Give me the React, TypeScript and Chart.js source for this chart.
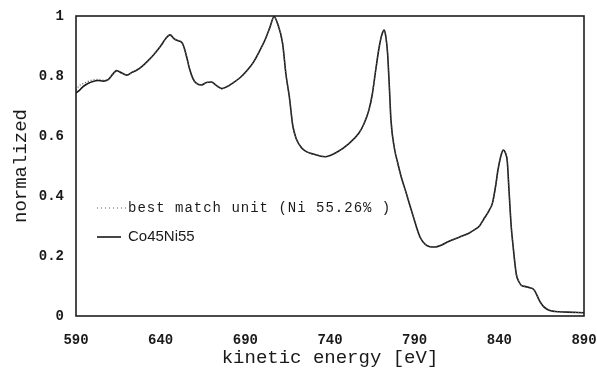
import React, { useEffect, useRef } from "react";
import { Chart, registerables } from "chart.js";

Chart.register(...registerables);

const energy = [
  590, 592, 594, 597, 600, 603, 606, 609, 612, 614, 617, 620, 623, 626, 629, 632, 636, 640, 643, 645.5,
  648, 650, 652.5, 654, 655.5, 657, 659, 661, 664, 667, 670, 673, 676, 679, 683, 687, 691, 695, 699, 702,
  704.5, 707, 709, 712, 714, 716, 718, 720, 723, 726, 730, 737, 744, 751, 757, 760, 763, 765, 767, 769,
  770.5, 772, 773, 774, 775, 776, 778, 780, 782, 785, 789, 793, 796, 799, 802, 806, 810, 816, 822, 826,
  828, 831, 834, 836, 838, 839, 840.8, 842.3, 843.5, 844.7, 845.7, 847, 848, 850, 851.5, 853, 855.5, 858,
  860, 861.5, 863.5, 866, 869, 873, 880, 890,
];

const coNi = [
  0.743, 0.752, 0.764, 0.775, 0.782, 0.785, 0.783, 0.788, 0.808, 0.818, 0.81, 0.803, 0.812, 0.82, 0.832, 0.848, 0.872, 0.9, 0.925, 0.937,
  0.924, 0.918, 0.912, 0.892, 0.86, 0.825, 0.792, 0.776, 0.77, 0.778, 0.78, 0.768, 0.758, 0.764, 0.778, 0.795, 0.818, 0.848, 0.89, 0.925,
  0.962, 0.998, 0.975, 0.909, 0.805, 0.73, 0.635, 0.592, 0.562, 0.548, 0.54, 0.531, 0.546, 0.574, 0.609, 0.64, 0.687, 0.74, 0.82, 0.895,
  0.935, 0.953, 0.93, 0.876, 0.77, 0.653, 0.56, 0.51, 0.465, 0.41, 0.335, 0.265, 0.24, 0.231, 0.23, 0.237, 0.248, 0.262, 0.276, 0.29,
  0.298, 0.325, 0.352, 0.378, 0.44, 0.48, 0.531, 0.553, 0.545, 0.515, 0.42, 0.3, 0.24, 0.14, 0.115, 0.102, 0.098, 0.094,
  0.09, 0.078, 0.053, 0.032, 0.02, 0.015, 0.013, 0.011,
];

const bestMatch = [
  0.753, 0.768, 0.774, 0.782, 0.787, 0.789, 0.786, 0.789, 0.808, 0.818, 0.81, 0.803, 0.812, 0.82, 0.832, 0.848, 0.872, 0.9, 0.925, 0.937,
  0.924, 0.918, 0.912, 0.892, 0.86, 0.825, 0.792, 0.776, 0.77, 0.778, 0.78, 0.768, 0.758, 0.764, 0.778, 0.795, 0.818, 0.848, 0.89, 0.925,
  0.962, 0.998, 0.975, 0.909, 0.805, 0.73, 0.635, 0.592, 0.562, 0.548, 0.54, 0.531, 0.546, 0.574, 0.609, 0.64, 0.687, 0.74, 0.82, 0.895,
  0.935, 0.953, 0.93, 0.876, 0.77, 0.653, 0.56, 0.51, 0.465, 0.41, 0.335, 0.265, 0.24, 0.231, 0.23, 0.237, 0.248, 0.262, 0.276, 0.29,
  0.298, 0.325, 0.352, 0.378, 0.44, 0.48, 0.531, 0.553, 0.545, 0.515, 0.42, 0.3, 0.24, 0.14, 0.115, 0.102, 0.098, 0.094,
  0.09, 0.078, 0.053, 0.032, 0.02, 0.015, 0.013, 0.011,
];

const xTicks = [590, 640, 690, 740, 790, 840, 890];
const yTicks = [0, 0.2, 0.4, 0.6, 0.8, 1];
const legendLabels = ["best match unit (Ni 55.26% )", "Co45Ni55"];
const xTitle = "kinetic energy [eV]";
const yTitle = "normalized";

export default function App() {
  const ref = useRef<HTMLCanvasElement>(null);

  useEffect(() => {
    const boxPlugin = {
      id: "box",
      afterDraw(chart: any) {
        const { ctx, chartArea } = chart;
        const { left, top, right, bottom } = chartArea;
        ctx.save();
        ctx.strokeStyle = "#1e1e1e";
        ctx.lineWidth = 1.6;
        ctx.strokeRect(left, top, right - left, bottom - top);
        ctx.restore();
      },
    };

    const legendPlugin = {
      id: "customLegend",
      afterDraw(chart: any) {
        const { ctx, chartArea } = chart;
        const x0 = chartArea.left + 21;
        const y1 = chartArea.top + 192;
        const y2 = chartArea.top + 221;
        ctx.save();
        ctx.strokeStyle = "#555";
        ctx.lineWidth = 1.2;
        ctx.setLineDash([1, 3]);
        ctx.beginPath();
        ctx.moveTo(x0, y1);
        ctx.lineTo(x0 + 29, y1);
        ctx.stroke();
        ctx.setLineDash([]);
        ctx.strokeStyle = "#1a1a1a";
        ctx.lineWidth = 1.6;
        ctx.beginPath();
        ctx.moveTo(x0, y2);
        ctx.lineTo(x0 + 24, y2);
        ctx.stroke();
        ctx.fillStyle = "#1a1a1a";
        ctx.textBaseline = "middle";
        ctx.textAlign = "left";
        ctx.font = "14px 'Liberation Mono', 'DejaVu Sans Mono', monospace";
        try { (ctx as any).letterSpacing = "1px"; } catch (e) {}
        ctx.fillText(legendLabels[0], x0 + 31, y1);
        try { (ctx as any).letterSpacing = "0px"; } catch (e) {}
        ctx.font = "15px 'Liberation Sans', Arial, sans-serif";
        ctx.fillText(legendLabels[1], x0 + 31, y2);
        ctx.restore();
      },
    };

    const tickFont = { family: "'Liberation Mono', 'DejaVu Sans Mono', monospace", size: 14, weight: "bold" as const };
    const titleFont = { family: "'Liberation Mono', 'DejaVu Sans Mono', monospace", size: 19, weight: "normal" as const };

    const chart = new Chart(ref.current as HTMLCanvasElement, {
      type: "line",
      data: {
        datasets: [
          {
            label: legendLabels[0],
            data: energy.map((x, i) => ({ x, y: bestMatch[i] })),
            borderColor: "#555",
            borderWidth: 1.2,
            borderDash: [1, 2],
            pointRadius: 0,
            fill: false,
            cubicInterpolationMode: "monotone",
          },
          {
            label: legendLabels[1],
            data: energy.map((x, i) => ({ x, y: coNi[i] })),
            borderColor: "#1a1a1a",
            borderWidth: 1.6,
            pointRadius: 0,
            fill: false,
            cubicInterpolationMode: "monotone",
          },
        ],
      },
      options: {
        animation: false,
        responsive: false,
        events: [],
        layout: { padding: { left: 0, right: 13, top: 16, bottom: 0 } },
        plugins: { legend: { display: false }, tooltip: { enabled: false } },
        scales: {
          x: {
            type: "linear",
            min: 590,
            max: 890,
            afterBuildTicks: (s: any) => {
              s.ticks = xTicks.map((v) => ({ value: v }));
            },
            afterFit: (s: any) => {
              s.height = 56;
              s.paddingLeft = 0;
              s.paddingRight = 0;
            },
            grid: { display: false, drawTicks: false },
            border: { display: false },
            ticks: {
              padding: 16,
              color: "#1a1a1a",
              font: tickFont,
              maxRotation: 0,
              callback: (v: any) => String(v),
            },
            title: {
              display: true,
              text: xTitle,
              color: "#1a1a1a",
              font: titleFont,
              padding: { top: 0, bottom: 3 },
            },
          },
          y: {
            type: "linear",
            min: 0,
            max: 1,
            afterBuildTicks: (s: any) => {
              s.ticks = yTicks.map((v) => ({ value: v }));
            },
            afterFit: (s: any) => {
              s.width = 76;
              s.paddingTop = 0;
              s.paddingBottom = 0;
            },
            grid: { display: false, drawTicks: false },
            border: { display: false },
            ticks: {
              padding: 12,
              color: "#1a1a1a",
              font: tickFont,
              callback: (v: any) => (v === 0 ? "0" : v === 1 ? "1" : Number(v).toFixed(1)),
            },
            title: {
              display: true,
              text: yTitle,
              color: "#1a1a1a",
              font: titleFont,
              padding: { top: 10, bottom: 0 },
            },
          },
        },
      },
      plugins: [boxPlugin, legendPlugin],
    } as any);

    return () => chart.destroy();
  }, []);

  return (
    <div style={{ position: "fixed", left: 0, top: 0, width: 597, height: 372, background: "#fff" }}>
      <canvas ref={ref} width={597} height={372} style={{ display: "block" }} />
    </div>
  );
}
